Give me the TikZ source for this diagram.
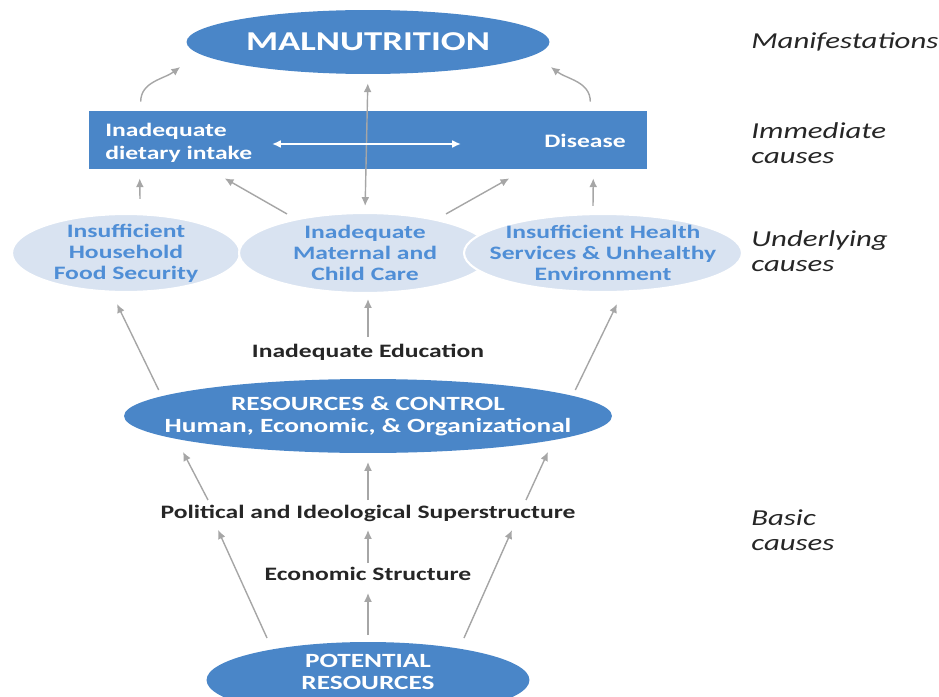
\documentclass[tikz,border=0pt]{standalone}
\usepackage{fontspec}
\setmainfont{Carlito}[FakeStretch=1.35]
\usetikzlibrary{arrows.meta,shapes.geometric}

\definecolor{darkblue}{HTML}{4A86C8}
\definecolor{paleblue}{HTML}{D9E3F1}
\definecolor{textblue}{HTML}{4F8ED6}
\definecolor{arrowgray}{HTML}{A6A6A6}
\definecolor{inkgray}{HTML}{262626}

\tikzset{
  bigoval/.style={ellipse, fill=darkblue, inner sep=0pt},
  paleoval/.style={ellipse, fill=paleblue, draw=white, line width=1.2pt, inner sep=0pt},
  ovaltext/.style={text=white, align=center, inner sep=0pt, font=\fontsize{11.5}{12.5}\selectfont\bfseries},
  paletext/.style={text=textblue, align=center, inner sep=0pt, font=\fontsize{10.8}{12}\selectfont\bfseries},
  blacktext/.style={text=inkgray, inner sep=0pt, font=\fontsize{10.8}{12}\selectfont\bfseries},
  causelabel/.style={anchor=west, align=left, inner sep=0pt, text=inkgray, font=\fontsize{13}{14.5}\selectfont\itshape},
  garrow/.style={arrowgray, line width=0.8pt, -{Latex[length=5pt,width=4.5pt]}},
  gdouble/.style={arrowgray, line width=0.8pt, {Latex[length=5pt,width=4.5pt]}-{Latex[length=5pt,width=4.5pt]}},
  warrow/.style={white, line width=1pt, {Latex[length=5pt,width=4.5pt]}-{Latex[length=5pt,width=4.5pt]}},
}

\begin{document}
\begin{tikzpicture}[x=0.02cm, y=-0.02cm]
\useasboundingbox (0,0) rectangle (939,696);
\clip (0,0) rectangle (939,696);

% manifestations
\node[bigoval, minimum width=7.26cm, minimum height=1.28cm] (mal) at (368,42) {};
\node[ovaltext, font=\fontsize{15.5}{18}\selectfont\bfseries] (maltext) at (mal) {MALNUTRITION};

% immediate causes
\node[fill=darkblue, minimum width=11.16cm, minimum height=1.16cm, inner sep=0pt] (imm) at (368,140) {};
\node[ovaltext, anchor=west, align=left, font=\fontsize{10.8}{13}\selectfont\bfseries] (diet) at (105,143) {Inadequate\\dietary intake};
\node[ovaltext, font=\fontsize{10.8}{13}\selectfont\bfseries] (dis) at (585,141) {Disease};

% underlying causes
\node[paleoval, minimum width=4.56cm, minimum height=1.56cm] (und1) at (126,253) {};
\node[paleoval, minimum width=5.04cm, minimum height=1.6cm] (und2) at (365,253) {};
\node[paleoval, minimum width=5.56cm, minimum height=1.56cm] (und3) at (603,253) {};
\node[paletext] (und1text) at (und1) {Insufficient\\Household\\Food Security};
\node[paletext] (und2text) at (und2) {Inadequate\\Maternal and\\Child Care};
\node[paletext] (und3text) at (und3) {Insufficient Health\\Services \& Unhealthy\\Environment};

\node[blacktext] (edu) at (368,352) {Inadequate Education};

% basic causes
\node[bigoval, minimum width=9.76cm, minimum height=1.48cm] (res) at (368,416) {};
\node[ovaltext] (restext) at (res) {RESOURCES \& CONTROL\\Human, Economic, \& Organizational};
\node[blacktext] (pol) at (368,513) {Political and Ideological Superstructure};
\node[blacktext] (econ) at (368,574) {Economic Structure};
\node[bigoval, minimum width=6.46cm, minimum height=1.52cm] (pot) at (368,680) {};
\node[ovaltext, font=\fontsize{11.5}{12.2}\selectfont\bfseries] (pottext) at ([yshift=0.16cm]pot) {POTENTIAL\\RESOURCES};

% labels on the right
\node[causelabel] (manif) at (751,42) {Manifestations};
\node[causelabel] (immlbl) at (751,143) {Immediate\\causes};
\node[causelabel] (undlbl) at (751,251) {Underlying\\causes};
\node[causelabel] (baslbl) at (751,530) {Basic\\causes};

% arrows
\draw[garrow] ([shift={(52,-9)}]imm.north west) .. controls +(0,-20) and +(-16,12) .. ([shift={(-6,25)}]mal.west);
\draw[garrow] ([shift={(-57,-9)}]imm.north east) .. controls +(0,-20) and +(16,12) .. ([shift={(1,25)}]mal.east);
\draw[gdouble, shorten <=0.18cm, shorten >=0.12cm] (mal.south) -- (und2.north);
\draw[warrow] ([shift={(-96,4)}]imm.center) -- ([shift={(93,4)}]imm.center);

\draw[garrow] ([shift={(14,-14)}]und1.north) -- ([shift={(51,9)}]imm.south west);
\draw[garrow] ([shift={(-78,2)}]und2.north) -- ([shift={(136,9)}]imm.south west);
\draw[garrow] ([shift={(81,2)}]und2.north) -- ([shift={(-138,9)}]imm.south east);
\draw[garrow] ([shift={(-10,-7)}]und3.north) -- ([shift={(-54,9)}]imm.south east);

\draw[garrow] ([shift={(0,-15)}]edu.center) -- ([shift={(3,5)}]und2.south);
\draw[garrow] ([shift={(35,-26)}]res.west) -- ([shift={(-9,11)}]und1.south);
\draw[garrow] ([shift={(-37,-26)}]res.east) -- ([shift={(14,11)}]und3.south);

\draw[garrow] ([shift={(-160,-13)}]pol.center) -- ([shift={(-185,36)}]res.center);
\draw[garrow] ([shift={(0,-13)}]pol.center) -- ([shift={(0,46)}]res.center);
\draw[garrow] ([shift={(158,-13)}]pol.center) -- ([shift={(180,36)}]res.center);

\draw[garrow] ([shift={(-101,-42)}]pot.center) -- ([shift={(-150,17)}]pol.center);
\draw[garrow] ([shift={(96,-42)}]pot.center) -- ([shift={(144,17)}]pol.center);
\draw[garrow] ([shift={(0,-11)}]econ.center) -- ([shift={(0,17)}]pol.center);
\draw[garrow] ([shift={(0,-45)}]pot.center) -- ([shift={(0,19)}]econ.center);
\end{tikzpicture}
\end{document}
